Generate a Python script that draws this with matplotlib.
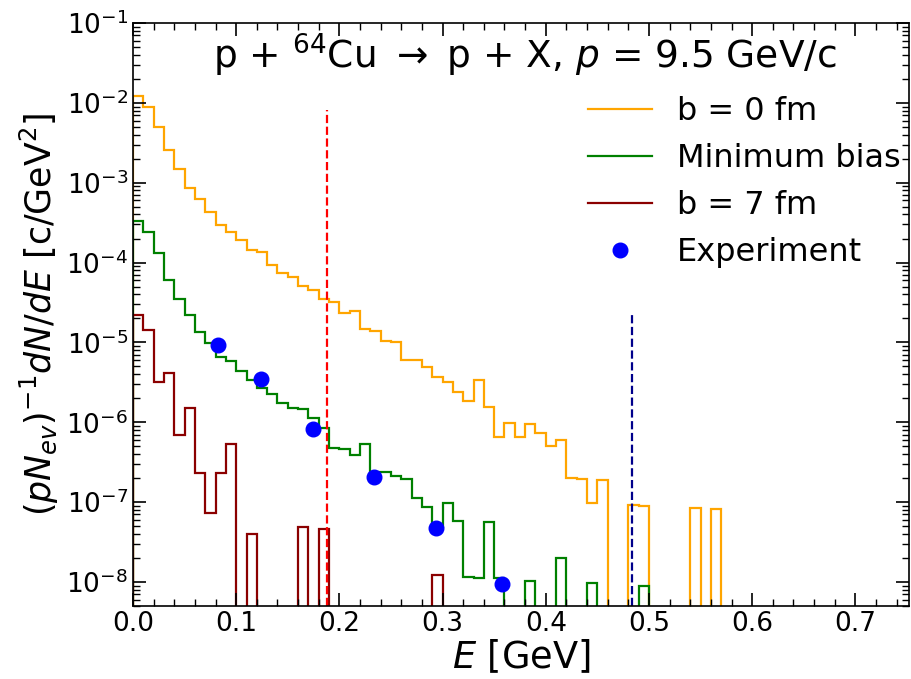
import numpy as np
import matplotlib
matplotlib.use("Agg")
import matplotlib.pyplot as plt
from matplotlib.ticker import AutoMinorLocator, LogLocator, NullFormatter

bin_width = 0.01

b0_values = [1.23e-2, 8.9e-3, 4.95e-3, 2.6e-3, 1.48e-3, 8.7e-4, 6.2e-4, 4.3e-4, 2.94e-4, 2.4e-4,
             1.9e-4, 1.43e-4, 1.34e-4, 9.2e-5, 7.5e-5, 6.6e-5, 5.07e-5, 4.47e-5, 3.45e-5, 3.22e-5,
             2.34e-5, 2.47e-5, 1.46e-5, 1.40e-5, 1.05e-5, 1.01e-5, 6.1e-6, 6.0e-6, 4.96e-6, 3.7e-6,
             3.19e-6, 2.41e-6, 1.86e-6, 3.37e-6, 1.56e-6, 6.6e-7, 9.7e-7, 6.5e-7, 9.5e-7, 7.3e-7,
             5.1e-7, 6.0e-7, 1.99e-7, 1.93e-7, 9.8e-8, 1.9e-7, 0, 0, 9.2e-8, 8.9e-8,
             0, 0, 0, 0, 8.4e-8, 0, 8.2e-8]

minbias_values = [3.33e-4, 2.42e-4, 1.30e-4, 6.0e-5, 3.45e-5, 2.2e-5, 1.35e-5, 9.9e-6, 6.6e-6, 5.8e-6,
                  4.4e-6, 3.38e-6, 2.65e-6, 2.23e-6, 1.72e-6, 1.52e-6, 1.45e-6, 1.12e-6, 8.5e-7, 4.7e-7,
                  4.57e-7, 3.89e-7, 5.3e-7, 2.36e-7, 2.40e-7, 2.12e-7, 1.93e-7, 1.11e-7, 8.6e-8, 4.9e-8,
                  9.7e-8, 5.85e-8, 1.16e-8, 1.13e-8, 5.7e-8, 1.12e-8, 0, 0, 1.04e-8, 0,
                  0, 2.0e-8, 0, 0, 9.6e-9, 0, 0, 0, 0, 9.0e-9]

b7_values = [2.2e-5, 1.42e-5, 3.16e-6, 4.09e-6, 6.9e-7, 1.53e-6, 2.29e-7, 7.4e-8, 2.29e-7, 5.3e-7,
             0, 3.95e-8, 0, 0, 0, 0, 4.9e-8, 0, 4.65e-8, 0,
             0, 0, 0, 0, 0, 0, 0, 0, 0, 1.22e-8]

exp_E = [0.082, 0.124, 0.174, 0.234, 0.294, 0.358]
exp_values = [9.4e-6, 3.5e-6, 8.3e-7, 2.08e-7, 4.7e-8, 9.4e-9]

vline_red_E = 0.188
vline_blue_E = 0.484


def edges_for(vals):
    return np.arange(len(vals) + 1) * bin_width


fig = plt.figure(figsize=(9.11, 6.79), dpi=100)
ax = fig.add_axes([133 / 911, 1 - 606 / 679, (909 - 133) / 911, (606 - 23) / 679])

ax.set_yscale("log")
ax.stairs(b0_values, edges_for(b0_values), color="orange", lw=1.6, label="b = 0 fm")
ax.stairs(minbias_values, edges_for(minbias_values), color="green", lw=1.6, label="Minimum bias")
ax.stairs(b7_values, edges_for(b7_values), color="darkred", lw=1.6, label="b = 7 fm")
ax.plot(exp_E, exp_values, "o", color="blue", ms=10.5, label="Experiment", zorder=5)

ax.axvline(vline_red_E, ymax=0.85, color="red", ls="--", lw=1.6)
ax.axvline(vline_blue_E, ymax=0.5, color="darkblue", ls="--", lw=1.6)

ax.set_xlim(0, 0.752)
ax.set_ylim(5e-9, 1e-1)

ax.xaxis.set_minor_locator(AutoMinorLocator(5))
ax.yaxis.set_major_locator(LogLocator(base=10, numticks=20))
ax.yaxis.set_minor_locator(LogLocator(base=10, subs=np.arange(2, 10), numticks=20))
ax.yaxis.set_minor_formatter(NullFormatter())

ax.tick_params(which="both", direction="in", top=True, right=True, labelsize=19)
ax.tick_params(which="major", length=9.5, width=1.2)
ax.tick_params(which="minor", length=5, width=1.0)
for s in ax.spines.values():
    s.set_linewidth(1.2)

ax.set_xlabel("$E$ [GeV]", fontsize=26.5, labelpad=1)
ax.set_ylabel("$(pN_{ev})^{-1}dN/dE$ [c/GeV$^2$]", fontsize=25)

ax.text(0.505, 0.945, "p + $^{64}$Cu $\\rightarrow$ p + X, $p$ = 9.5 GeV/c",
        transform=ax.transAxes, ha="center", va="center", fontsize=27)

ax.legend(loc="upper right", bbox_to_anchor=(1.006, 0.896), frameon=False, fontsize=23,
          borderaxespad=0.0, handlelength=2.0)

fig.savefig("out.png", dpi=100)
